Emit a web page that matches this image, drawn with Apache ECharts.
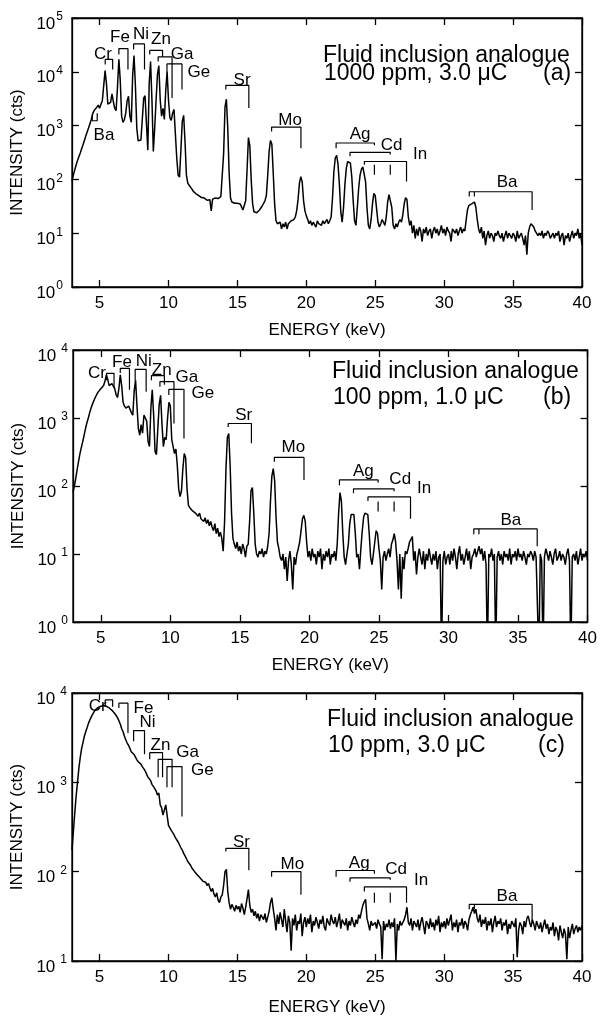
<!DOCTYPE html>
<html><head><meta charset="utf-8">
<script src="https://cdn.jsdelivr.net/npm/echarts@6/dist/echarts.min.js"></script>
<style>html,body{margin:0;padding:0;background:#fff}#c{width:600px;height:1017px}</style>
</head><body><div id="c"></div>
<script>
// ---------- DATA ----------
const energy = [
3.0,3.1,3.2,3.3,3.4,3.5,3.6,3.7,3.8,3.9,
4.0,4.1,4.2,4.3,4.4,4.5,4.6,4.7,4.8,4.9,
5.0,5.1,5.2,5.3,5.4,5.5,5.6,5.7,5.8,5.9,
6.0,6.1,6.2,6.3,6.4,6.5,6.6,6.7,6.8,6.9,
7.0,7.1,7.2,7.3,7.4,7.5,7.6,7.7,7.8,7.9,
8.0,8.1,8.2,8.3,8.4,8.5,8.6,8.7,8.8,8.9,
9.0,9.1,9.2,9.3,9.4,9.5,9.6,9.7,9.8,9.9,
10.0,10.1,10.2,10.3,10.4,10.5,10.6,10.7,10.8,10.9,
11.0,11.1,11.2,11.3,11.4,11.5,11.6,11.7,11.8,11.9,
12.0,12.1,12.2,12.3,12.4,12.5,12.6,12.7,12.8,12.9,
13.0,13.1,13.2,13.3,13.4,13.5,13.6,13.7,13.8,13.9,
14.0,14.1,14.2,14.3,14.4,14.5,14.6,14.7,14.8,14.9,
15.0,15.1,15.2,15.3,15.4,15.5,15.6,15.7,15.8,15.9,
16.0,16.1,16.2,16.3,16.4,16.5,16.6,16.7,16.8,16.9,
17.0,17.1,17.2,17.3,17.4,17.5,17.6,17.7,17.8,17.9,
18.0,18.1,18.2,18.3,18.4,18.5,18.6,18.7,18.8,18.9,
19.0,19.1,19.2,19.3,19.4,19.5,19.6,19.7,19.8,19.9,
20.0,20.1,20.2,20.3,20.4,20.5,20.6,20.7,20.8,20.9,
21.0,21.1,21.2,21.3,21.4,21.5,21.6,21.7,21.8,21.9,
22.0,22.1,22.2,22.3,22.4,22.5,22.6,22.7,22.8,22.9,
23.0,23.1,23.2,23.3,23.4,23.5,23.6,23.7,23.8,23.9,
24.0,24.1,24.2,24.3,24.4,24.5,24.6,24.7,24.8,24.9,
25.0,25.1,25.2,25.3,25.4,25.5,25.6,25.7,25.8,25.9,
26.0,26.1,26.2,26.3,26.4,26.5,26.6,26.7,26.8,26.9,
27.0,27.1,27.2,27.3,27.4,27.5,27.6,27.7,27.8,27.9,
28.0,28.1,28.2,28.3,28.4,28.5,28.6,28.7,28.8,28.9,
29.0,29.1,29.2,29.3,29.4,29.5,29.6,29.7,29.8,29.9,
30.0,30.1,30.2,30.3,30.4,30.5,30.6,30.7,30.8,30.9,
31.0,31.1,31.2,31.3,31.4,31.5,31.6,31.7,31.8,31.9,
32.0,32.1,32.2,32.3,32.4,32.5,32.6,32.7,32.8,32.9,
33.0,33.1,33.2,33.3,33.4,33.5,33.6,33.7,33.8,33.9,
34.0,34.1,34.2,34.3,34.4,34.5,34.6,34.7,34.8,34.9,
35.0,35.1,35.2,35.3,35.4,35.5,35.6,35.7,35.8,35.9,
36.0,36.1,36.2,36.3,36.4,36.5,36.6,36.7,36.8,36.9,
37.0,37.1,37.2,37.3,37.4,37.5,37.6,37.7,37.8,37.9,
38.0,38.1,38.2,38.3,38.4,38.5,38.6,38.7,38.8,38.9,
39.0,39.1,39.2,39.3,39.4,39.5,39.6,39.7,39.8,39.9,
40.0];

// (a) 1000 ppm, 3.0 uC
const countsA = [
95,120,150,185,225,265,310,370,440,530,
640,760,900,1080,1300,1650,1900,1750,2200,2400,
2100,2500,2900,5500,10500,6000,2500,2300,2700,3900,
2800,2100,1900,5200,17000,7000,1500,1150,1300,1700,
2900,3500,1500,1150,8500,20000,5500,900,520,480,
540,1300,3200,3600,1100,350,6000,15500,3000,330,
900,3000,9000,13000,3000,1500,2100,1300,4500,10000,
3000,1400,1250,1700,2000,700,250,120,110,350,
1200,1550,500,120,85,78,72,66,60,56,
54,52,50,48,46,44,45,43,41,44,
42,26,43,41,45,42,44,45,48,52,
300,2200,3100,900,130,45,38,37,36,35,
36,34,35,33,27,25,40,150,600,420,
100,36,25,23,24,25,27,29,32,36,
40,50,120,330,530,450,130,35,17,15,
14,16,12,15,13,16,12,15,14,17,
16,18,20,26,42,85,112,90,40,26,
21,18,15,17,14,16,15,13,17,15,
16,14,17,15,16,18,15,17,20,45,
140,250,280,190,80,25,16,30,80,160,
215,230,200,110,40,17,14,30,70,120,
155,170,160,90,30,14,12,18,35,55,
50,28,16,13,15,18,16,14,20,38,
52,55,30,14,12,15,13,16,18,16,
22,35,46,42,20,14,17,10,14,8,
12,9,13,11,7,12,10,13,9,11,
12,8,11,13,10,12,9,11,14,10,
12,9,13,11,10,7,12,11,10,12,
9,11,13,10,12,11,18,28,33,32,
35,34,38,30,18,12,10,13,8,11,
6,9,11,8,10,9,7,10,9,11,
9,8,10,7,9,11,8,10,9,8,
10,9,7,11,8,9,10,8,6,9,
4,10,13,15,16,13,11,10,9,10,
9,11,8,10,9,11,10,8,9,10,
8,10,9,11,7,9,10,6,9,8,
10,7,9,11,8,10,9,12,8,10,
6];

// (b) 100 ppm, 1.0 uC
const countsB = [
80,100,130,175,230,300,370,450,560,700,
850,1000,1200,1400,1600,1800,2000,2200,2400,2550,
2700,2850,3000,3500,4300,3700,3000,2900,3200,3400,
2700,2200,2000,2700,4300,3000,1700,1500,1400,1350,
1500,1600,1200,1100,2500,3600,1500,700,560,800,
600,1100,1000,900,450,380,1400,2600,1100,320,
290,700,1600,2150,800,380,520,480,1000,1700,
1500,480,380,300,350,200,90,70,85,180,
300,260,90,52,48,45,43,44,40,38,
36,40,33,35,30,34,28,32,26,30,
25,22,28,20,24,18,21,17,11,30,
180,520,590,200,40,17,14,12,15,11,
13,10,14,12,9,13,14,30,85,95,
40,14,10,9,11,10,12,9,11,10,
13,20,60,140,180,120,35,15,12,9,
8,10,6,9,4,8,11,7,3,9,
7,10,12,15,22,33,37,30,15,9,
11,8,12,9,10,7,11,9,12,6,
10,8,11,9,12,7,10,9,11,8,
14,40,80,60,20,9,7,10,14,28,
38,40,38,20,9,10,6,12,22,35,
40,42,38,20,9,7,10,15,22,20,
12,8,3,9,11,8,10,12,9,14,
16,20,15,8,3,10,2.2,9,6,11,
10,12,15,15,18,8,11,5,9,12,
9,7,11,6,10,8,12,9,7,10,
8,11,6,9,10,0.3,8,11,7,9,
10,7,11,8,12,9,6,10,13,8,
10,7,9,12,8,11,6,9,10,12,
9,11,13,10,12,8,11,7,0.3,10,
9,12,8,10,0.3,9,11,8,10,7,
11,9,10,8,12,7,10,9,11,8,
12,9,10,8,11,9,7,10,9,11,
10,8,11,9,9,0.3,10,8,0.3,9,
12,10,8,11,9,7,10,12,8,9,
11,8,10,9,7,10,12,8,0.3,9,
10,8,11,7,9,12,8,10,9,11,
8];

// (c) 10 ppm, 3.0 uC
const countsC = [
175,280,450,700,1000,1450,1900,2400,2800,3300,
3700,4100,4600,5000,5400,5800,6100,6500,6700,6900,
7000,7100,7200,7250,7200,7100,7000,6800,6600,6400,
6200,5900,5600,5300,4900,4500,4000,3700,3300,3000,
2750,2600,2400,2200,2100,2050,1950,1800,1700,1650,
1600,1500,1450,1350,1250,1150,1100,1050,950,900,
850,800,720,760,560,520,430,440,560,580,
330,320,290,280,260,240,230,215,200,185,
175,160,150,140,130,128,118,110,108,100,
98,92,95,85,88,78,82,76,70,74,
66,60,65,56,52,58,48,45,52,55,
70,100,106,60,45,38,43,40,36,42,
38,41,35,44,39,33,40,50,63,42,
35,38,32,36,30,34,28,33,31,29,
34,27,31,36,45,51,38,30,22,33,
26,35,29,24,38,28,21,32,27,13,
30,25,33,22,28,26,34,19,27,31,
24,30,26,33,21,28,25,31,27,23,
29,26,32,24,22,30,27,25,33,28,
26,31,24,28,34,23,29,27,25,30,
22,28,25,31,27,24,29,26,33,30,
36,42,46,49,30,26,22,28,25,24,
27,23,29,26,24,10.5,28,22,26,24,
29,23,27,24,30,10,26,22,28,25,
24,29,33,40,27,25,30,22,28,26,
24,29,22,27,31,25,20,28,26,23,
30,24,27,22,29,25,32,21,27,24,
28,23,30,25,26,33,22,27,24,29,
21,27,25,30,23,28,26,22,29,33,
36,40,34,38,30,27,33,24,29,26,
31,22,28,25,30,21,27,32,24,28,
26,30,22,27,25,29,20,26,23,28,
26,24,30,11,22,27,25,20,28,24,
30,32,27,24,29,26,22,28,25,23,
27,21,25,29,23,26,20,24,22,27,
19,24,22,17,25,21,18,23,20,10.5,
24,18,22,26,20,23,25,21,24,22,
25];

// tick labels
const xTicks = [5,10,15,20,25,30,35,40];
const yTicksA = [1,10,100,1000,10000,100000];
const yTicksB = [1,10,100,1000,10000];
const yTicksC = [10,100,1000,10000];

// texts
const panelTitles = ['Fluid inclusion analogue','Fluid inclusion analogue','Fluid inclusion analogue'];
const panelSubs = ['1000 ppm, 3.0 \u03bcC','100 ppm, 1.0 \u03bcC','10 ppm, 3.0 \u03bcC'];
const panelTags = ['(a)','(b)','(c)'];
const xName = 'ENERGY (keV)';
const yName = 'INTENSITY (cts)';

// line brackets: [element, E_left, E_right, topCounts, leftLegEnd, rightLegEnd]
const bracketsA = [
['Cr',5.41,5.95,17000,13600,11000],
['Fe',6.40,7.06,27000,21000,11000],
['Ni',7.47,8.26,33000,26000,11000],
['Zn',8.64,9.57,25000,21000,19000],
['Ga',9.25,10.26,19000,15500,3250],
['Ge',9.89,10.98,14000,9700,4700],
['BaL',4.47,4.83,1230,1600,1700],
['Sr',14.16,15.83,5600,4700,2130],
['Mo',17.48,19.61,940,780,380],
['Ag',22.16,24.94,475,380,430],
['Cd',23.17,26.09,317,270,290],
['In',24.21,27.27,215,187,91],
['Ba',31.82,36.38,59,48,27]];
// extra leg segments: [E, from, to]
const legsA = [[24.94,187,122],[26.09,187,122],[32.19,59,48]];
// element labels: [text, E, counts]
const labelsA = [
['Cr',5.25,21000],['Fe',6.48,43500],['Ni',8.0,49000],['Zn',9.46,40000],
['Ga',10.98,21000],['Ge',12.2,9660],['Ba',5.32,650],['Sr',15.34,6900],
['Mo',18.82,1230],['Ag',23.9,675],['Cd',26.19,424],['In',28.25,288],['Ba',34.57,88]];

const bracketsB = [
['Cr',5.41,5.95,4540,3600,2760],
['Fe',6.40,7.06,5380,4600,2600],
['Ni',7.47,8.26,5200,3600,2440],
['Zn',8.64,9.57,4200,3600,3070],
['Ga',9.25,10.26,3420,2880,830],
['Ge',9.89,10.98,2640,2180,500],
['Sr',14.16,15.83,830,740,425],
['Mo',17.48,19.61,263,228,123],
['Ag',22.16,24.94,123,103,112],
['Cd',23.17,26.09,91,78,84],
['In',24.21,27.27,69,60,33],
['Ba',31.82,36.38,23.4,19.5,13]];
const legsB = [[24.94,59,42],[26.09,59,42],[32.19,23.4,19.5]];
const labelsB = [
['Cr',4.72,4600],['Fe',6.52,6650],['Ni',8.09,6900],['Zn',9.38,5090],
['Ga',11.18,4000],['Ge',12.33,2330],['Sr',15.27,1100],['Mo',18.85,375],
['Ag',23.88,162],['Cd',26.53,126],['In',28.25,91],['Ba',34.49,31.6]];

const bracketsC = [
['Cr',5.41,5.95,8360,7000,7000],
['Fe',6.40,7.06,7700,6800,3570],
['Ni',7.47,8.26,3800,2890,2060],
['Zn',8.64,9.57,2150,1810,1140],
['Ga',9.25,10.26,1810,1140,880],
['Ge',9.89,10.98,1500,880,415],
['Sr',14.16,15.83,182,168,104],
['Mo',17.48,19.61,100,88,55],
['Ag',22.16,24.94,103,88,95],
['Cd',23.17,26.09,85,77,81],
['In',24.21,27.27,67.5,60,45],
['Ba',31.82,36.38,43,38,28]];
const legsC = [[24.94,58,45],[26.09,58,45],[32.19,43,38]];
const labelsC = [
['Cr',4.86,7180],['Fe',8.19,6800],['Ni',8.48,4650],['Zn',9.42,2590],
['Ga',11.38,2170],['Ge',12.46,1370],['Sr',15.29,213],['Mo',18.99,121],
['Ag',23.84,124],['Cd',26.52,105],['In',28.33,81],['Ba',34.56,53]];

// ---------- CHART ----------
const FONT = "'Liberation Sans', Arial, Helvetica, sans-serif";
const panels = [
 {counts:countsA, yTicks:yTicksA, br:bracketsA, legs:legsA, labs:labelsA,
  grid:{left:72, top:18, width:510, height:269}, supGap:1, labMargin:9, nameGapX:35, txt:[323,56,74,543]},
 {counts:countsB, yTicks:yTicksB, br:bracketsB, legs:legsB, labs:labelsB,
  grid:{left:73, top:350, width:516, height:272}, supGap:5, labMargin:5, nameGapX:35, txt:[332,372,398,543]},
 {counts:countsC, yTicks:yTicksC, br:bracketsC, legs:legsC, labs:labelsC,
  grid:{left:72, top:693, width:510, height:271}, supGap:5, labMargin:5, nameGapX:38, txt:[327,720,746,538]}
];

const grids=[], xAxes=[], yAxes=[], series=[], graphic=[];
const black = '#000';
panels.forEach((p,i)=>{
  grids.push(Object.assign({show:true, borderColor:black, borderWidth:1.3, backgroundColor:'transparent'}, p.grid));
});
panels.forEach((p,i)=>{
  xAxes.push({gridIndex:i, type:'value', min:3, max:40, position:'bottom',
    name:xName, nameLocation:'middle', nameGap:p.nameGapX,
    nameTextStyle:{fontSize:17, fontFamily:FONT, color:black},
    axisLine:{show:true, lineStyle:{color:black, width:1.3}},
    axisTick:{show:true, inside:true, length:7, customValues:xTicks, lineStyle:{color:black, width:1.3}},
    axisLabel:{show:true, customValues:xTicks, color:black, fontSize:17, fontFamily:FONT, margin:8},
    splitLine:{show:false}});
});
panels.forEach((p,i)=>{
  xAxes.push({gridIndex:i, type:'value', min:3, max:40, position:'top',
    axisLine:{show:true, lineStyle:{color:black, width:1.3}},
    axisTick:{show:true, inside:true, length:7, customValues:xTicks, lineStyle:{color:black, width:1.3}},
    axisLabel:{show:false}, splitLine:{show:false}});
});
panels.forEach((p,i)=>{
  const t = p.yTicks;
  yAxes.push({gridIndex:i, type:'log', logBase:10, min:t[0], max:t[t.length-1], position:'left',
    name:yName, nameLocation:'middle', nameGap:41,
    nameTextStyle:{fontSize:17, fontFamily:FONT, color:black},
    axisLine:{show:true, lineStyle:{color:black, width:1.3}},
    axisTick:{show:true, inside:true, length:7, customValues:t, lineStyle:{color:black, width:1.3}},
    axisLabel:{show:true, customValues:t, margin:p.labMargin, padding:[12,0,0,0],
      formatter:v=>'{b|10}{s|'+Math.round(Math.log10(v))+'}',
      rich:{b:{fontSize:17, fontFamily:FONT, color:black, lineHeight:26},
            s:{fontSize:12, fontFamily:FONT, color:black, lineHeight:12, verticalAlign:'top', padding:[0,0,0,p.supGap]}}},
    splitLine:{show:false}});
});
panels.forEach((p,i)=>{
  const t = p.yTicks;
  yAxes.push({gridIndex:i, type:'log', logBase:10, min:t[0], max:t[t.length-1], position:'right',
    axisLine:{show:true, lineStyle:{color:black, width:1.3}},
    axisTick:{show:true, inside:true, length:7, customValues:t, lineStyle:{color:black, width:1.3}},
    axisLabel:{show:false}, splitLine:{show:false}});
});

panels.forEach((p,i)=>{
  series.push({type:'line', xAxisIndex:i, yAxisIndex:i, data:energy.map((e,k)=>[e,p.counts[k]]),
    symbol:'none', clip:true, lineStyle:{color:black, width:1.5}, silent:true, animation:false, z:2});
  p.br.forEach(b=>{
    series.push({type:'line', xAxisIndex:i, yAxisIndex:i,
      data:[[b[1],b[4]],[b[1],b[3]],[b[2],b[3]],[b[2],b[5]]],
      symbol:'none', lineStyle:{color:black, width:1.2}, silent:true, animation:false, z:3});
  });
  p.legs.forEach(l=>{
    series.push({type:'line', xAxisIndex:i, yAxisIndex:i, data:[[l[0],l[1]],[l[0],l[2]]],
      symbol:'none', lineStyle:{color:black, width:1.2}, silent:true, animation:false, z:3});
  });
  series.push({type:'scatter', xAxisIndex:i, yAxisIndex:i, symbolSize:0, silent:true, animation:false, z:4,
    itemStyle:{opacity:1, color:black},
    data:p.labs.map(l=>({name:l[0], value:[l[1],l[2]]})),
    label:{show:true, position:'inside', formatter:'{b}', color:black, opacity:1, textBorderWidth:0, fontSize:17, fontFamily:FONT}});
  const tx = p.txt;
  graphic.push({type:'text', x:tx[0], y:tx[1], style:{text:panelTitles[i], font:'23px '+FONT, fill:black, align:'left', verticalAlign:'middle'}});
  graphic.push({type:'text', x:tx[0]+1, y:tx[2], style:{text:panelSubs[i], font:'23px '+FONT, fill:black, align:'left', verticalAlign:'middle'}});
  graphic.push({type:'text', x:tx[3], y:tx[2], style:{text:panelTags[i], font:'23px '+FONT, fill:black, align:'left', verticalAlign:'middle'}});
});

const chart = echarts.init(document.getElementById('c'), null, {renderer:'canvas'});
chart.setOption({animation:false, backgroundColor:'#fff', grid:grids, xAxis:xAxes, yAxis:yAxes, series:series, graphic:graphic});
</script>
</body></html>
